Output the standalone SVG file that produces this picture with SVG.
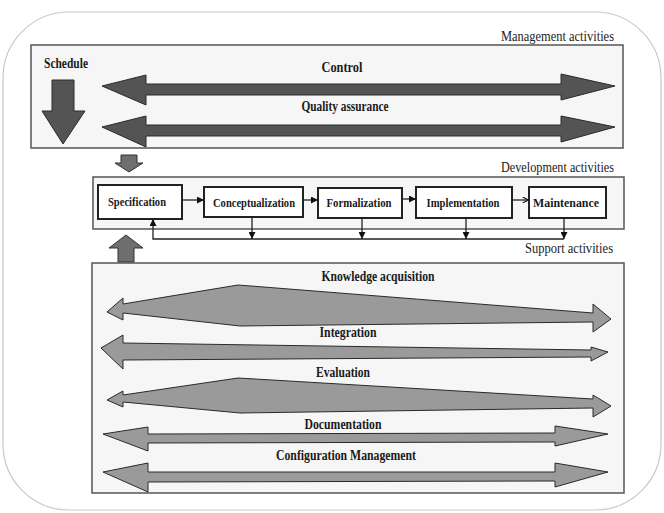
<svg xmlns="http://www.w3.org/2000/svg" width="664" height="513" viewBox="0 0 664 513">
<style>
.lbl{font-family:"Liberation Serif","Times New Roman",serif;font-weight:bold;fill:#1a1a1a}
.big{font-size:15px}
.sm{font-size:13.5px}
.sec{font-family:"Liberation Serif","Times New Roman",serif;font-size:14.5px;fill:#222}
.panel{fill:#f6f6f6;stroke:#555;stroke-width:1.5}
.box{fill:#fff;stroke:#222;stroke-width:2}
.dark{fill:#545454;stroke:#2a2a2a;stroke-width:1}
.mid{fill:#9a9a9a;stroke:#2a2a2a;stroke-width:1}
.med{fill:#6e6e6e;stroke:#333;stroke-width:1}
.ln{fill:none;stroke:#222;stroke-width:1.3}
</style>
<defs>
<marker id="ah" viewBox="0 0 10 10" refX="10" refY="5" markerWidth="7" markerHeight="7" orient="auto" markerUnits="userSpaceOnUse">
<path d="M0,0 L10,5 L0,10 z" fill="#111"/>
</marker>
<marker id="ao" viewBox="0 0 10 10" refX="10" refY="5" markerWidth="7" markerHeight="7" orient="auto" markerUnits="userSpaceOnUse">
<path d="M1,1 L10,5 L1,9" fill="none" stroke="#111" stroke-width="1.5"/>
</marker>
</defs>
<rect x="3" y="12" width="658" height="498" rx="66" ry="66" fill="#fff" stroke="#c8c8c8" stroke-width="1.2"/>

<g id="management">
<rect class="panel" x="31" y="45" width="592" height="103"/>
<text class="sec" x="614" y="41" text-anchor="end" textLength="113" lengthAdjust="spacingAndGlyphs">Management activities</text>
<g id="schedule">
<text class="lbl big" x="44" y="68" textLength="44" lengthAdjust="spacingAndGlyphs">Schedule</text>
<polygon class="dark" points="52,80 74,80 74,111 85,111 63,144 42,111 52,111"/>
</g>
<g id="control">
<text class="lbl big" x="342" y="72" text-anchor="middle" textLength="41" lengthAdjust="spacingAndGlyphs">Control</text>
<polygon class="dark" points="102,86 146,75 146,84 561,84 561,74 615,86 561,100 561,95 146,95 146,105"/>
</g>
<g id="quality">
<text class="lbl big" x="345" y="111" text-anchor="middle" textLength="87" lengthAdjust="spacingAndGlyphs">Quality assurance</text>
<polygon class="dark" points="102,127 146,116 146,125 561,125 561,116 615,127 561,142 561,136 146,136 146,147"/>
</g>
</g>

<g id="down-arrow">
<polygon class="med" points="121,155 137,155 137,163 143,163 129,172 115,163 121,163"/>
</g>

<g id="development">
<rect class="panel" x="93" y="177" width="531" height="52"/>
<text class="sec" x="614" y="172" text-anchor="end" textLength="113" lengthAdjust="spacingAndGlyphs">Development activities</text>
</g>
<g id="specification">
<rect class="box" x="98" y="185" width="84" height="34"/>
<text class="lbl sm" x="137" y="206" text-anchor="middle" textLength="58" lengthAdjust="spacingAndGlyphs">Specification</text>
</g>
<g id="conceptualization">
<rect class="box" x="204" y="187" width="99" height="30"/>
<text class="lbl sm" x="254" y="207" text-anchor="middle" textLength="82" lengthAdjust="spacingAndGlyphs">Conceptualization</text>
</g>
<g id="formalization">
<rect class="box" x="318" y="188" width="84" height="30"/>
<text class="lbl sm" x="359" y="207" text-anchor="middle" textLength="65" lengthAdjust="spacingAndGlyphs">Formalization</text>
</g>
<g id="implementation">
<rect class="box" x="416" y="187" width="96" height="31"/>
<text class="lbl sm" x="463" y="207" text-anchor="middle" textLength="73" lengthAdjust="spacingAndGlyphs">Implementation</text>
</g>
<g id="maintenance">
<rect class="box" x="529" y="187" width="77" height="31"/>
<text class="lbl sm" x="566" y="207" text-anchor="middle" textLength="66" lengthAdjust="spacingAndGlyphs">Maintenance</text>
</g>

<g id="connectors">
<line class="ln" x1="182" y1="200" x2="204" y2="200" marker-end="url(#ah)"/>
<line class="ln" x1="303" y1="200" x2="318" y2="200" marker-end="url(#ah)"/>
<line class="ln" x1="402" y1="199" x2="416" y2="199" marker-end="url(#ah)"/>
<line class="ln" x1="512" y1="200" x2="529" y2="200" marker-end="url(#ao)"/>
<line class="ln" x1="252" y1="217" x2="252" y2="239" marker-end="url(#ah)"/>
<line class="ln" x1="362" y1="218" x2="362" y2="239" marker-end="url(#ah)"/>
<line class="ln" x1="466" y1="218" x2="466" y2="239" marker-end="url(#ah)"/>
<line class="ln" x1="564" y1="218" x2="564" y2="239" marker-end="url(#ah)"/>
<polyline class="ln" points="564,239 153,239 153,219" marker-end="url(#ah)"/>
</g>

<g id="up-arrow">
<polygon class="med" points="118,262 134,262 134,248 143,248 126,235 109,248 118,248"/>
</g>

<g id="support">
<rect class="panel" x="92" y="263" width="532" height="230"/>
<text class="sec" x="613" y="253" text-anchor="end" textLength="88" lengthAdjust="spacingAndGlyphs">Support activities</text>
<g id="knowledge">
<text class="lbl big" x="378" y="281" text-anchor="middle" textLength="113" lengthAdjust="spacingAndGlyphs">Knowledge acquisition</text>
<polygon class="mid" points="107,312 123,298 123,304 238,285 593,313 593,304 611,319 593,332 593,322 240,326 123,313 123,320"/>
</g>
<g id="integration">
<text class="lbl big" x="348" y="337" text-anchor="middle" textLength="57" lengthAdjust="spacingAndGlyphs">Integration</text>
<polygon class="mid" points="101,348 123,335 123,343 591,350 591,347 608,352 591,361 591,357 123,360 123,369"/>
</g>
<g id="evaluation">
<text class="lbl big" x="343" y="377" text-anchor="middle" textLength="54" lengthAdjust="spacingAndGlyphs">Evaluation</text>
<polygon class="mid" points="107,400 123,391 123,395 238,378 593,399 593,395 611,406 593,417 593,408 240,413 123,402 123,407"/>
</g>
<g id="documentation">
<text class="lbl big" x="343" y="429" text-anchor="middle" textLength="77" lengthAdjust="spacingAndGlyphs">Documentation</text>
<polygon class="mid" points="103,434 148,427 148,434 555,433 555,426 608,434 555,446 555,442 148,443 148,451"/>
</g>
<g id="configuration">
<text class="lbl big" x="346" y="460" text-anchor="middle" textLength="140" lengthAdjust="spacingAndGlyphs">Configuration Management</text>
<polygon class="mid" points="103,472 148,463 148,472 555,472 555,463 608,472 555,487 555,481 148,482 148,492"/>
</g>
</g>
</svg>
